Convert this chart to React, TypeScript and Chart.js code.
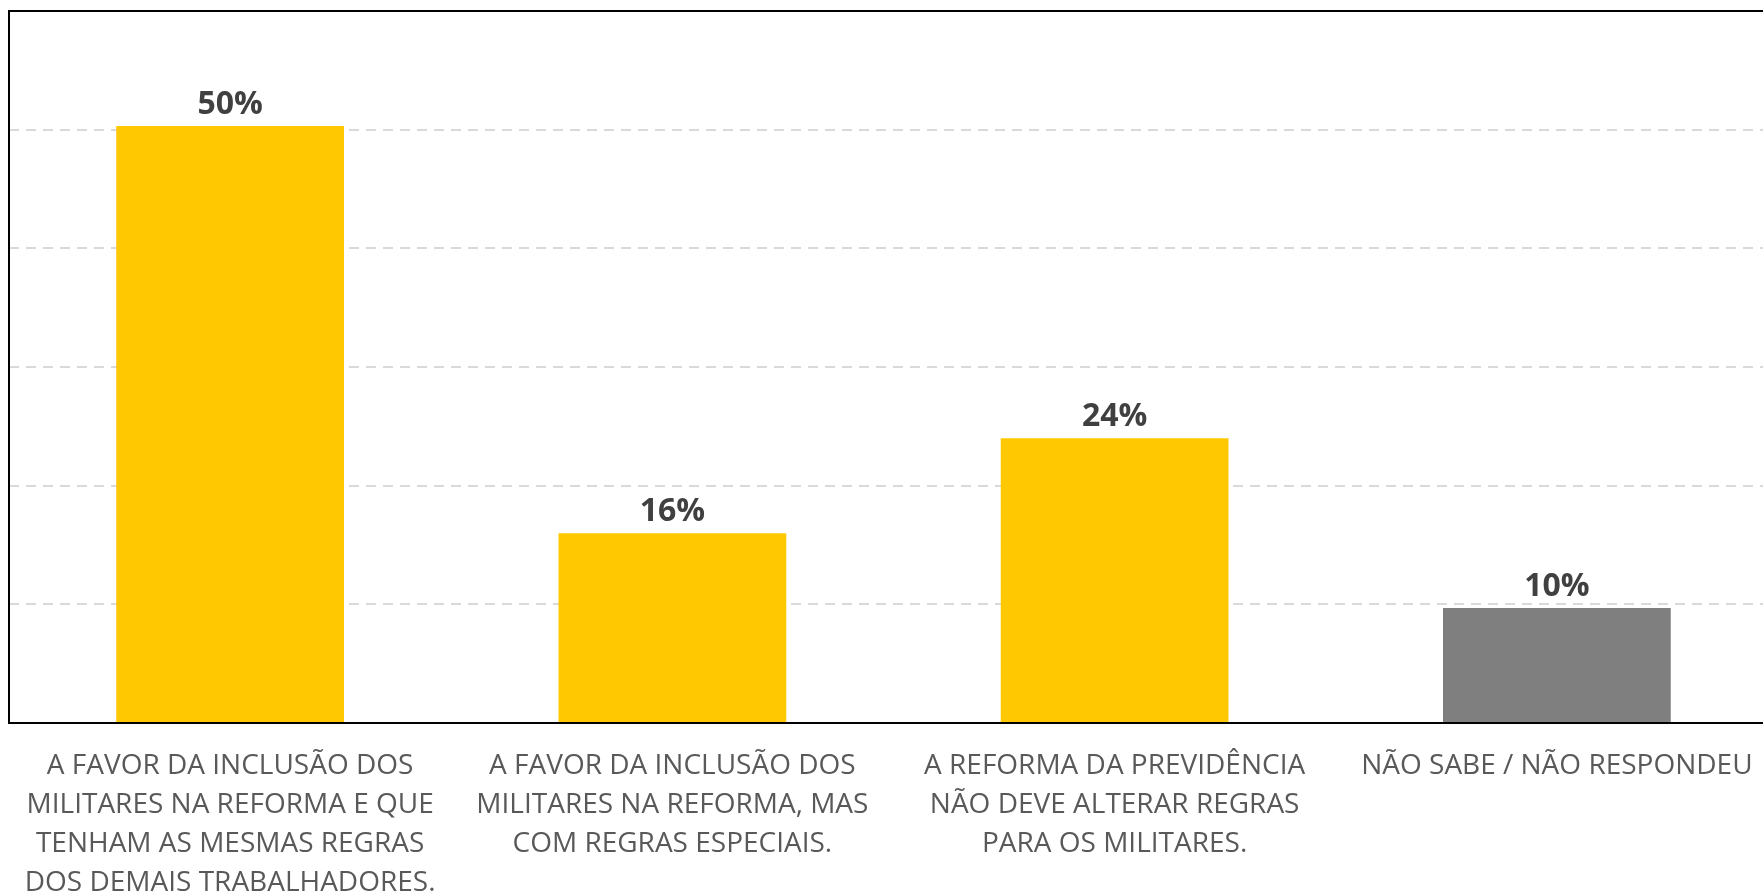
import React, { useEffect, useRef } from 'react';
import { Chart, registerables } from 'chart.js';

Chart.register(...registerables);

const categories: string[][] = [
  ['A FAVOR DA INCLUSÃO DOS', 'MILITARES NA REFORMA E QUE', 'TENHAM AS MESMAS REGRAS', 'DOS DEMAIS TRABALHADORES.'],
  ['A FAVOR DA INCLUSÃO DOS', 'MILITARES NA REFORMA, MAS', 'COM REGRAS ESPECIAIS.'],
  ['A REFORMA DA PREVIDÊNCIA', 'NÃO DEVE ALTERAR REGRAS', 'PARA OS MILITARES.'],
  ['NÃO SABE / NÃO RESPONDEU'],
];
const values = [50.3, 16, 24, 9.7];
const valueLabels = ['50%', '16%', '24%', '10%'];
const barColors = ['#FFC800', '#FFC800', '#FFC800', '#7F7F7F'];
const yMin = 0;
const yMax = 60;
const yStep = 10;

const FONT = "'Open Sans', 'Noto Sans', sans-serif";

const frameAndLabels = {
  id: 'frameAndLabels',
  afterDatasetsDraw(chart: any) {
    const { ctx, chartArea } = chart;
    ctx.save();
    ctx.strokeStyle = '#000000';
    ctx.lineWidth = 2;
    ctx.strokeRect(chartArea.left, chartArea.top, chartArea.right - chartArea.left, chartArea.bottom - chartArea.top);
    const meta = chart.getDatasetMeta(0);
    ctx.fillStyle = '#404040';
    ctx.font = `bold 32px ${FONT}`;
    ctx.textAlign = 'center';
    ctx.textBaseline = 'alphabetic';
    meta.data.forEach((bar: any, i: number) => {
      ctx.fillText(valueLabels[i], bar.x, bar.y - 12);
    });
    ctx.restore();
  },
};

export default function App() {
  const ref = useRef<HTMLCanvasElement | null>(null);
  useEffect(() => {
    if (!ref.current) return;
    const chart = new Chart(ref.current, {
      type: 'bar',
      data: {
        labels: categories,
        datasets: [
          {
            data: values,
            backgroundColor: barColors,
            borderWidth: 0,
            categoryPercentage: 1,
            barPercentage: 0.515,
          },
        ],
      },
      options: {
        animation: false,
        responsive: true,
        maintainAspectRatio: false,
        layout: { padding: { left: 9, top: 11, right: 12, bottom: 0 } },
        plugins: { legend: { display: false }, tooltip: { enabled: false } },
        scales: {
          x: {
            grid: { display: false, drawTicks: false },
            border: { display: false },
            ticks: {
              autoSkip: false,
              maxRotation: 0,
              minRotation: 0,
              padding: 23,
              color: '#595959',
              font: { family: FONT, size: 28, lineHeight: 1.4 },
            },
            afterFit(scale: any) {
              scale.height = 171;
            },
          },
          y: {
            min: yMin,
            max: yMax,
            ticks: { stepSize: yStep, display: false },
            grid: { color: '#D9D9D9', lineWidth: 2, drawTicks: false },
            border: { display: false, dash: [10, 7] },
            afterFit(scale: any) {
              scale.width = 0;
            },
          },
        },
      },
      plugins: [frameAndLabels],
    } as any);
    return () => chart.destroy();
  }, []);
  return (
    <div style={{ position: 'absolute', left: 0, top: 0, width: 1763, height: 894, overflow: 'hidden', background: '#fff' }}>
      <div style={{ position: 'relative', width: 1790, height: 894 }}>
        <canvas ref={ref} />
      </div>
    </div>
  );
}
